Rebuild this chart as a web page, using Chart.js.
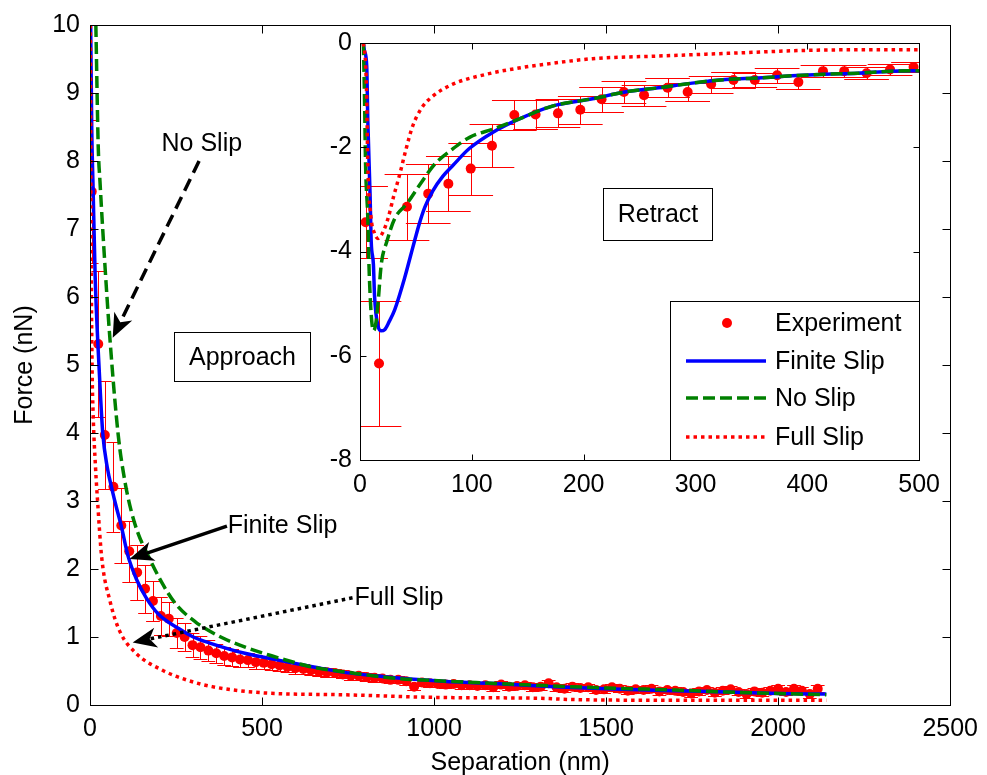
<!DOCTYPE html>
<html><head><meta charset="utf-8">
<script src="https://cdn.jsdelivr.net/npm/chart.js@4.4.0/dist/chart.umd.min.js"></script>
<style>
html,body{margin:0;padding:0;background:#fff;}
#wrap{position:relative;width:987px;height:775px;overflow:hidden;background:#fff;}
#main{position:absolute;left:0;top:0;}
#inset{position:absolute;left:300px;top:20px;}
</style></head><body>
<div id="wrap"><canvas id="main" width="987" height="775"></canvas><canvas id="inset" width="650" height="490"></canvas></div>
<script>
// ---------- Approach (main plot) ----------
const approachExpX = [5,24,43,68,91,114,137,160,183,206,
  229,252,275,298,321,344,367,390,413,436,
  459,482,505,528,551,574,597,620,643,666,
  689,712,735,758,781,804,827,850,873,896,
  919,942,965,988,1011,1034,1057,1080,1103,1126,
  1149,1172,1195,1218,1241,1264,1287,1310,1333,1356,
  1379,1402,1425,1448,1471,1494,1517,1540,1563,1586,
  1609,1632,1655,1678,1701,1724,1747,1770,1793,1816,
  1839,1862,1885,1908,1931,1954,1977,2000,2023,2046,
  2069,2092,2115];
const approachExpY = [7.55,5.31,3.97,3.21,2.64,2.26,1.95,1.71,1.53,1.31,
  1.27,1.06,1.00,0.88,0.85,0.80,0.76,0.72,0.70,0.67,
  0.66,0.63,0.62,0.60,0.58,0.56,0.54,0.53,0.51,0.49,
  0.48,0.47,0.45,0.43,0.43,0.41,0.40,0.39,0.37,0.37,
  0.35,0.27,0.33,0.32,0.31,0.30,0.31,0.29,0.29,0.28,
  0.29,0.26,0.30,0.27,0.28,0.29,0.26,0.27,0.32,0.26,
  0.24,0.27,0.25,0.26,0.22,0.23,0.26,0.24,0.21,0.23,
  0.22,0.24,0.20,0.22,0.21,0.19,0.17,0.20,0.22,0.18,
  0.21,0.23,0.19,0.16,0.20,0.18,0.21,0.24,0.19,0.24,
  0.21,0.16,0.24];
const approachExpErr = [1.05,1.07,0.80,0.66,0.55,0.45,0.40,0.35,0.30,0.28,
  0.25,0.22,0.20,0.18,0.17,0.15,0.14,0.13,0.12,0.11,
  0.10,0.10,0.09,0.09,0.08,0.08,0.08,0.07,0.07,0.07,
  0.07,0.06,0.06,0.06,0.06,0.06,0.06,0.05,0.05,0.05,
  0.05,0.05,0.05,0.05,0.05,0.05,0.05,0.05,0.05,0.05,
  0.05,0.05,0.05,0.05,0.05,0.05,0.05,0.05,0.05,0.05,
  0.05,0.05,0.05,0.05,0.05,0.05,0.05,0.05,0.05,0.05,
  0.05,0.05,0.05,0.05,0.05,0.05,0.05,0.05,0.05,0.05,
  0.05,0.05,0.05,0.05,0.05,0.05,0.05,0.05,0.05,0.05,
  0.05,0.05,0.05];

const approachFiniteX = [2,5,9,15,23,30,37,50,65,77,91,110,135,163,200,259,300,355,450,547,650,739,850,1027,1200,1350,1500,1700,1850,2000,2140];
const approachFiniteY = [10,8.5,7.6,6.3,5.3,4.6,4.0,3.5,3.15,2.9,2.63,2.2,1.85,1.58,1.33,1.12,1.0,0.9,0.76,0.66,0.56,0.48,0.42,0.35,0.31,0.27,0.24,0.21,0.19,0.17,0.16];
const approachNoSlipX = [17,24,29,43,58,82,101,120,140,163,211,250,307,380,451,530,605,643,750,893,1000,1123,1300,1500,1700,1850,2000,2140];
const approachNoSlipY = [10,8.2,7.7,6.5,5.38,3.97,3.3,2.85,2.52,2.26,1.78,1.48,1.22,1.0,0.85,0.72,0.61,0.56,0.48,0.39,0.36,0.33,0.29,0.25,0.22,0.19,0.17,0.15];
const approachFullX = [1,3,6,9,16,22,34,58,86,134,211,280,355,499,739,1027,1300,1400,1700,2140];
const approachFullY = [10,7,5,4.3,3.5,3.0,2.17,1.53,1.09,0.76,0.51,0.37,0.27,0.18,0.15,0.11,0.10,0.08,0.07,0.07];

// ---------- Retract (inset) ----------
const retractExpX = [5,17,42,61,79,99,118,138,157,177,197,216,236,254,275,293,314,334,353,373,392,414,433,453,474,495];
const retractExpY = [-3.44,-6.15,-3.14,-2.89,-2.70,-2.41,-1.97,-1.38,-1.37,-1.35,-1.28,-1.08,-0.94,-1.00,-0.86,-0.94,-0.79,-0.71,-0.71,-0.62,-0.75,-0.54,-0.54,-0.58,-0.51,-0.46];
const retractExpErr = [0.69,1.20,0.63,0.56,0.53,0.50,0.41,0.28,0.28,0.27,0.27,0.24,0.22,0.20,0.18,0.17,0.16,0.15,0.14,0.14,0.13,0.12,0.12,0.11,0.11,0.10];

const retractFiniteX = [3,4,6,7,9,10,12,13,16,19,22,26,31,40,45,49,53,58,65,74,83,98,119,142,172,208,237,267,297,327,356,386,416,445,475,500];
const retractFiniteY = [0,-0.15,-0.44,-1.5,-2.9,-3.8,-4.25,-4.85,-5.42,-5.52,-5.5,-5.35,-5.12,-4.5,-4.1,-3.78,-3.47,-3.15,-2.84,-2.56,-2.35,-2.02,-1.71,-1.46,-1.21,-1.07,-0.94,-0.86,-0.77,-0.70,-0.67,-0.63,-0.60,-0.58,-0.54,-0.53];
const retractNoSlipX = [3,4,5,7,8,10,12,14,16,19,24,31,42,55,67,83,98,119,142,172,208,237,267,297,327,356,386,416,445,475,500];
const retractNoSlipY = [0,-1.0,-2.35,-3.37,-4.25,-5.2,-5.52,-5.4,-5.02,-4.25,-3.81,-3.37,-3.08,-2.67,-2.32,-2.03,-1.81,-1.65,-1.46,-1.21,-1.07,-0.94,-0.86,-0.77,-0.70,-0.67,-0.63,-0.60,-0.58,-0.54,-0.53];
const retractFullX = [3,5,6,7,10,13,16,20,25,30,36,41,47,55,64,83,113,142,172,208,267,327,401,450,500];
const retractFullY = [0,-0.4,-1.08,-2.35,-3.37,-3.65,-3.75,-3.65,-3.37,-2.95,-2.48,-2.05,-1.6,-1.25,-1.04,-0.79,-0.60,-0.48,-0.39,-0.30,-0.25,-0.20,-0.14,-0.13,-0.13];

const seriesNames = ['Experiment','Finite Slip','No Slip','Full Slip'];
const FONT = '"Liberation Sans", Arial, Helvetica, sans-serif';
const FS = 25;

Chart.defaults.font.family = FONT;
Chart.defaults.font.size = FS;
Chart.defaults.color = '#000';

const pts = (xs, ys) => xs.map((v, i) => ({x: v, y: ys[i]}));
const plainTick = v => String(v);

function makeDatasets(ex, ey, ee, fx, fy, nx, ny, ux, uy) {
  return [
    {label: seriesNames[0], data: pts(ex, ey), errors: ee, showLine: false, pointRadius: 5, pointHoverRadius: 5,
     pointBackgroundColor: '#ff0000', backgroundColor: '#ff0000', pointBorderWidth: 0, borderColor: '#ff0000', order: 4},
    {label: seriesNames[1], data: pts(fx, fy), showLine: true, pointRadius: 0, borderColor: '#0000ff', borderWidth: 3.5,
     cubicInterpolationMode: 'monotone', order: 3},
    {label: seriesNames[2], data: pts(nx, ny), showLine: true, pointRadius: 0, borderColor: '#008000', borderWidth: 3.5,
     borderDash: [12, 5], cubicInterpolationMode: 'monotone', order: 2},
    {label: seriesNames[3], data: pts(ux, uy), showLine: true, pointRadius: 0, borderColor: '#ff0000', borderWidth: 3.5,
     borderDash: [3.5, 4], cubicInterpolationMode: 'monotone', order: 1}
  ];
}

// error bars drawn through the scales
const errorBars = {
  id: 'errorBars',
  beforeDatasetsDraw(chart, args, opts) {
    const {ctx, chartArea: a, scales: {x, y}} = chart;
    ctx.save();
    ctx.beginPath(); ctx.rect(a.left, a.top, a.right - a.left, a.bottom - a.top); ctx.clip();
    ctx.strokeStyle = '#ff0000'; ctx.lineWidth = 1;
    chart.data.datasets.forEach(ds => {
      if (!ds.errors) return;
      ds.data.forEach((p, i) => {
        const e = ds.errors[i];
        const px = Math.round(x.getPixelForValue(p.x)) + 0.5;
        const c0 = x.getPixelForValue(p.x - opts.cap), c1 = x.getPixelForValue(p.x + opts.cap);
        const y0 = Math.round(y.getPixelForValue(p.y + e)) + 0.5, y1 = Math.round(y.getPixelForValue(p.y - e)) + 0.5;
        ctx.beginPath();
        ctx.moveTo(px, y0); ctx.lineTo(px, y1);
        ctx.moveTo(c0, y0); ctx.lineTo(c1, y0);
        ctx.moveTo(c0, y1); ctx.lineTo(c1, y1);
        ctx.stroke();
      });
    });
    ctx.restore();
  }
};

// box frame with inward ticks on all sides
const frameTicks = {
  id: 'frameTicks',
  afterDatasetsDraw(chart, args, opts) {
    const {ctx, chartArea: a, scales: {x, y}} = chart;
    const L = opts.len;
    ctx.save();
    ctx.strokeStyle = '#000'; ctx.lineWidth = 1;
    const l = Math.round(a.left) + 0.5, r = Math.round(a.right) + 0.5, t = Math.round(a.top) + 0.5, b = Math.round(a.bottom) + 0.5;
    ctx.strokeRect(l, t, r - l, b - t);
    ctx.beginPath();
    x.ticks.forEach(tk => {
      const px = Math.round(x.getPixelForValue(tk.value)) + 0.5;
      ctx.moveTo(px, b); ctx.lineTo(px, b - L);
      ctx.moveTo(px, t); ctx.lineTo(px, t + L);
    });
    y.ticks.forEach(tk => {
      const py = Math.round(y.getPixelForValue(tk.value)) + 0.5;
      ctx.moveTo(l, py); ctx.lineTo(l + L, py);
      ctx.moveTo(r, py); ctx.lineTo(r - L, py);
    });
    ctx.stroke();
    ctx.restore();
  }
};

function drawArrow(ctx, x0, y0, x1, y1, dash, w) {
  const ang = Math.atan2(y1 - y0, x1 - x0);
  const c = Math.cos(ang), s = Math.sin(ang);
  const hl = 24, hw = 10;
  ctx.save();
  ctx.strokeStyle = '#000'; ctx.fillStyle = '#000';
  ctx.lineWidth = w; ctx.setLineDash(dash); ctx.lineCap = 'butt';
  ctx.beginPath(); ctx.moveTo(x0, y0); ctx.lineTo(x1 - c * hl * 0.7, y1 - s * hl * 0.7); ctx.stroke();
  ctx.setLineDash([]);
  ctx.beginPath();
  ctx.moveTo(x1, y1);
  ctx.lineTo(x1 - c * hl - s * hw, y1 - s * hl + c * hw);
  ctx.lineTo(x1 - c * hl * 0.72, y1 - s * hl * 0.72);
  ctx.lineTo(x1 - c * hl + s * hw, y1 - s * hl - c * hw);
  ctx.closePath(); ctx.fill();
  ctx.restore();
}

const annotations = {
  id: 'annotations',
  afterDraw(chart, args, opts) {
    const {ctx, scales: {x, y}} = chart;
    const X = v => x.getPixelForValue(v), Y = v => y.getPixelForValue(v);
    ctx.save();
    ctx.font = FS + 'px ' + FONT;
    ctx.fillStyle = '#000';
    (opts.boxes || []).forEach(b => {
      const l = Math.round(X(b.x0)) + 0.5, r = Math.round(X(b.x1)) + 0.5;
      const t = Math.round(Y(b.y0)) + 0.5, bt = Math.round(Y(b.y1)) + 0.5;
      ctx.fillStyle = '#fff'; ctx.fillRect(l, t, r - l, bt - t);
      ctx.strokeStyle = '#000'; ctx.lineWidth = 1; ctx.strokeRect(l, t, r - l, bt - t);
      ctx.fillStyle = '#000'; ctx.textAlign = 'center'; ctx.textBaseline = 'middle';
      ctx.fillText(b.text, (l + r) / 2, (t + bt) / 2 + 1);
    });
    (opts.arrows || []).forEach(ar => {
      drawArrow(ctx, X(ar.from[0]), Y(ar.from[1]), X(ar.to[0]), Y(ar.to[1]), ar.dash, ar.width);
    });
    (opts.labels || []).forEach(lb => {
      ctx.fillStyle = '#000'; ctx.textAlign = lb.align; ctx.textBaseline = 'middle';
      ctx.fillText(lb.text, X(lb.at[0]), Y(lb.at[1]));
    });
    ctx.restore();
  }
};

const insetLegend = {
  id: 'insetLegend',
  afterDraw(chart) {
    const {ctx, chartArea: a} = chart;
    const w = 249, h = 159;
    const l = Math.round(a.right - w), t = Math.round(a.bottom - h);
    ctx.save();
    ctx.fillStyle = '#fff'; ctx.fillRect(l, t, w, h);
    ctx.strokeStyle = '#000'; ctx.lineWidth = 1; ctx.strokeRect(l + 0.5, t + 0.5, w, h);
    const rows = [22, 60, 97, 136];
    chart.data.datasets.forEach((ds, i) => {
      const yy = t + rows[i];
      if (ds.showLine === false) {
        ctx.fillStyle = ds.backgroundColor; ctx.beginPath(); ctx.arc(l + 57, yy, 5, 0, 2 * Math.PI); ctx.fill();
      } else {
        ctx.strokeStyle = ds.borderColor; ctx.lineWidth = ds.borderWidth; ctx.setLineDash(ds.borderDash || []);
        ctx.beginPath(); ctx.moveTo(l + 16, yy); ctx.lineTo(l + 96, yy); ctx.stroke(); ctx.setLineDash([]);
      }
      ctx.fillStyle = '#000'; ctx.font = FS + 'px ' + FONT; ctx.textAlign = 'left'; ctx.textBaseline = 'middle';
      ctx.fillText(ds.label, l + 105, yy + 1);
    });
    ctx.restore();
  }
};

const commonPlugins = {legend: {display: false}, tooltip: {enabled: false}};

// ---------- main chart ----------
new Chart(document.getElementById('main'), {
  type: 'scatter',
  data: {datasets: makeDatasets(approachExpX, approachExpY, approachExpErr,
    approachFiniteX, approachFiniteY, approachNoSlipX, approachNoSlipY, approachFullX, approachFullY)},
  options: {
    responsive: false, animation: false, devicePixelRatio: 1,
    layout: {padding: {top: 20, right: 29, left: 0, bottom: 0}},
    scales: {
      x: {type: 'linear', min: 0, max: 2500,
        ticks: {stepSize: 500, padding: 9, maxRotation: 0, font: {size: FS}, callback: plainTick},
        grid: {display: false, drawTicks: false}, border: {display: false},
        title: {display: true, text: 'Separation (nm)', font: {size: FS}, padding: {top: 0, bottom: -3}},
        afterFit(s) { s.height = 70; }},
      y: {type: 'linear', min: 0, max: 10,
        ticks: {stepSize: 1, padding: 10, font: {size: FS}, callback: plainTick},
        grid: {display: false, drawTicks: false}, border: {display: false},
        title: {display: true, text: 'Force (nN)', font: {size: FS}, padding: {top: 10, bottom: 0}},
        afterFit(s) { s.width = 90; }}
    },
    plugins: Object.assign({}, commonPlugins, {
      errorBars: {cap: 20},
      frameTicks: {len: 8},
      annotations: {
        boxes: [{x0: 245, x1: 639, y0: 5.49, y1: 4.77, text: 'Approach'}],
        arrows: [
          {from: [317, 8.0], to: [66, 5.40], dash: [13, 7], width: 3.5},
          {from: [398, 2.63], to: [115, 2.146], dash: [], width: 3.5},
          {from: [763, 1.577], to: [124, 0.92], dash: [3.5, 4], width: 3.5}
        ],
        labels: [
          {text: 'No Slip', at: [325, 8.25], align: 'center'},
          {text: 'Finite Slip', at: [400, 2.63], align: 'left'},
          {text: 'Full Slip', at: [769, 1.577], align: 'left'}
        ]
      }
    })
  },
  plugins: [errorBars, frameTicks, annotations]
});

// ---------- inset chart ----------
new Chart(document.getElementById('inset'), {
  type: 'scatter',
  data: {datasets: makeDatasets(retractExpX, retractExpY, retractExpErr,
    retractFiniteX, retractFiniteY, retractNoSlipX, retractNoSlipY, retractFullX, retractFullY)},
  options: {
    responsive: false, animation: false, devicePixelRatio: 1,
    layout: {padding: {top: 21, right: 29, left: 0, bottom: 0}},
    scales: {
      x: {type: 'linear', min: 0, max: 500,
        ticks: {stepSize: 100, padding: 10, maxRotation: 0, font: {size: FS}, callback: plainTick},
        grid: {display: false, drawTicks: false}, border: {display: false},
        afterFit(s) { s.height = 50; }},
      y: {type: 'linear', min: -8, max: 0,
        ticks: {stepSize: 2, padding: 8, font: {size: FS}, callback: plainTick},
        grid: {display: false, drawTicks: false}, border: {display: false},
        afterFit(s) { s.width = 60; }}
    },
    plugins: Object.assign({}, commonPlugins, {
      errorBars: {cap: 20},
      frameTicks: {len: 6},
      annotations: {
        boxes: [{x0: 217, x1: 315, y0: -2.78, y1: -3.77, text: 'Retract'}]
      }
    })
  },
  plugins: [errorBars, frameTicks, annotations, insetLegend]
});
</script>
</body></html>
